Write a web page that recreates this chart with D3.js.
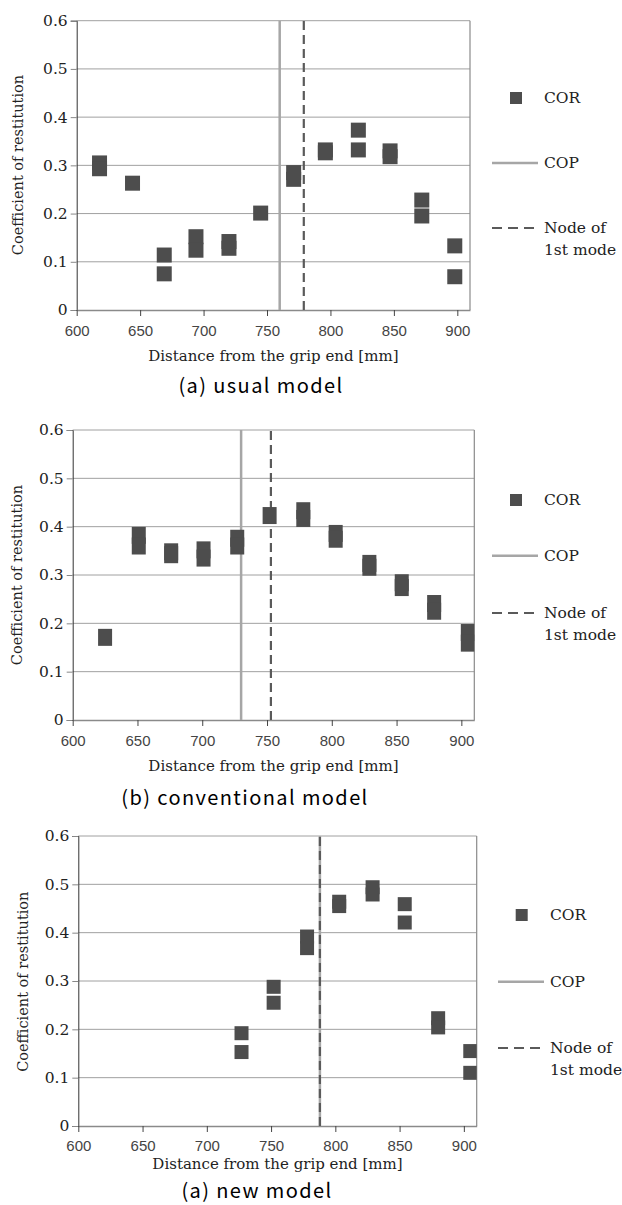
<!DOCTYPE html>
<html><head><meta charset="utf-8">
<script src="https://cdn.jsdelivr.net/npm/d3@7"></script>
<style>body{margin:0;background:#fff}svg{display:block}</style>
</head><body>
<svg id="c" width="622" height="1205"></svg>
<script>
// ---- data ----
const xTicks = [600, 650, 700, 750, 800, 850, 900];
const yTicks = [0, 0.1, 0.2, 0.3, 0.4, 0.5, 0.6];
const yTickLabels = ["0", "0.1", "0.2", "0.3", "0.4", "0.5", "0.6"];
const xDomain = [600, 910];
const yDomain = [0, 0.6];

const usualX = [618, 618, 644, 669, 669, 694, 694, 720, 720, 745, 771, 771, 796, 796, 822, 822, 847, 847, 872, 872, 898, 898];
const usualY = [0.305, 0.293, 0.263, 0.114, 0.075, 0.152, 0.124, 0.142, 0.128, 0.201, 0.285, 0.271, 0.332, 0.326, 0.373, 0.332, 0.330, 0.318, 0.228, 0.195, 0.133, 0.069];
const usualCOP = 760, usualNode = 779;

const convX = [625, 651, 651, 676, 676, 701, 701, 727, 727, 752, 778, 778, 803, 803, 829, 829, 854, 854, 879, 879, 905, 905];
const convY = [0.171, 0.382, 0.360, 0.348, 0.342, 0.352, 0.335, 0.376, 0.360, 0.423, 0.433, 0.417, 0.386, 0.374, 0.324, 0.316, 0.284, 0.274, 0.241, 0.225, 0.181, 0.159];
const convCOP = 730, convNode = 753;

const newX = [727, 727, 752, 752, 778, 778, 803, 803, 829, 829, 854, 854, 880, 880, 905, 905];
const newY = [0.192, 0.153, 0.288, 0.255, 0.392, 0.368, 0.464, 0.455, 0.494, 0.479, 0.459, 0.421, 0.223, 0.204, 0.155, 0.110];
const newCOP = 788, newNode = 788;

const legendLabels = ["COR", "COP", ["Node of", "1st mode"]];
const xTitle = "Distance from the grip end [mm]";
const yTitle = "Coefficient of restitution";
const captions = ["(a) usual model", "(b) conventional model", "(a) new model"];

// ---- layout ----
const panels = [
  {xs: usualX, ys: usualY, cop: usualCOP, node: usualNode, cap: captions[0],
   L: 76.7, R: 470, T: 20.7, B: 310, mw: 15, mh: 15,
   lg: {sq: [516, 98], cop: 163, node: 228, x0: 492, x1: 538, tx: 544},
   yt: [18, 165], xl: 336, xt: 361, capY: 393, capX: 261},
  {xs: convX, ys: convY, cop: convCOP, node: convNode, cap: captions[1],
   L: 72.7, R: 474.3, T: 430, B: 720, mw: 14, mh: 17,
   lg: {sq: [516, 500], cop: 555.7, node: 613, x0: 492, x1: 538, tx: 544},
   yt: [17, 575], xl: 745.5, xt: 770.5, capY: 805, capX: 245},
  {xs: newX, ys: newY, cop: newCOP, node: newNode, cap: captions[2],
   L: 78.3, R: 476.7, T: 836, B: 1126, mw: 14, mh: 14,
   lg: {sq: [521.7, 915], cop: 981.7, node: 1048, x0: 498, x1: 544, tx: 550},
   yt: [22.7, 981.7], xl: 1151, xt: 1168.5, capY: 1198, capX: 257}
];

const svg = d3.select("#c");
const serif = "'DejaVu Serif', serif";
const sans = "'Liberation Sans', Arial, sans-serif";
const markColor = "#4d4d4d";

panels.forEach((p, i) => {
  const x = d3.scaleLinear().domain(xDomain).range([p.L, p.R]);
  const y = d3.scaleLinear().domain(yDomain).range([p.B, p.T]);
  const g = svg.append("g");
  const clipId = "clip" + i;
  svg.append("clipPath").attr("id", clipId).append("rect")
    .attr("x", p.L).attr("y", p.T).attr("width", p.R - p.L).attr("height", p.B - p.T);

  // gridlines
  g.selectAll(".grid").data(yTicks.filter(v => v > 0)).join("line")
    .attr("x1", p.L).attr("x2", p.R).attr("y1", d => y(d)).attr("y2", d => y(d))
    .attr("stroke", "#a0a0a0").attr("stroke-width", 1);
  // right border
  g.append("line").attr("x1", p.R).attr("x2", p.R).attr("y1", p.T).attr("y2", p.B)
    .attr("stroke", "#8a8a8a").attr("stroke-width", 1.2);

  // y axis
  const ya = g.append("g").attr("transform", `translate(${p.L},0)`)
    .call(d3.axisLeft(y).tickValues(yTicks).tickSize(6).tickFormat((d, k) => yTickLabels[k]));
  ya.select(".domain").attr("stroke", "#333");
  ya.selectAll(".tick line").attr("stroke", "#888");
  ya.selectAll("text").attr("font-family", serif).attr("font-size", 15.5).attr("fill", "#222").attr("x", -9);

  // x axis
  const xa = g.append("g").attr("transform", `translate(0,${p.B})`)
    .call(d3.axisBottom(x).tickValues(xTicks).tickSize(6).tickSizeOuter(0).tickFormat(d3.format("d")));
  xa.select(".domain").attr("stroke", "#8a8a8a").attr("stroke-width", 1.5);
  xa.selectAll(".tick line").attr("stroke", "#444");
  xa.selectAll("text").attr("font-family", sans).attr("font-size", 15).attr("fill", "#444")
    .attr("y", null).attr("dy", null)
    .attr("transform", `translate(0,${p.xl - p.B})`);

  // reference lines
  g.append("line").attr("x1", x(p.cop)).attr("x2", x(p.cop)).attr("y1", y(0)).attr("y2", y(0.6))
    .attr("stroke", "#a6a6a6").attr("stroke-width", 2.5);
  g.append("line").attr("x1", x(p.node)).attr("x2", x(p.node)).attr("y1", y(0)).attr("y2", y(0.6))
    .attr("stroke", "#5a5a5a").attr("stroke-width", 2.2).attr("stroke-dasharray", "9,5");

  // markers
  g.append("g").attr("clip-path", `url(#${clipId})`)
    .selectAll("rect").data(p.xs.map((v, k) => [v, p.ys[k]])).join("rect")
    .attr("x", d => x(d[0]) - p.mw / 2).attr("y", d => y(d[1]) - p.mh / 2)
    .attr("width", p.mw).attr("height", p.mh).attr("fill", markColor);

  // titles
  g.append("text").attr("x", (p.L + p.R) / 2).attr("y", p.xt).attr("text-anchor", "middle")
    .attr("font-family", serif).attr("font-size", 15).attr("fill", "#222").text(xTitle);
  g.append("text").attr("transform", `translate(${p.yt[0] + 5},${p.yt[1]}) rotate(-90)`)
    .attr("text-anchor", "middle").attr("font-family", serif).attr("font-size", 14.5).attr("fill", "#222").text(yTitle);
  g.append("text").attr("x", p.capX).attr("y", p.capY).attr("text-anchor", "middle")
    .attr("font-family", "'Noto Sans CJK JP', sans-serif").attr("font-size", 20)
    .attr("letter-spacing", 1.4).attr("fill", "#000").text(p.cap);

  // legend
  const lg = p.lg;
  g.append("rect").attr("x", lg.sq[0] - 6).attr("y", lg.sq[1] - 6).attr("width", 12).attr("height", 12).attr("fill", markColor);
  const lt = (tx, ty, s) => g.append("text").attr("x", tx).attr("y", ty).attr("dy", "0.35em")
    .attr("font-family", serif).attr("font-size", 15.5).attr("fill", "#222").text(s);
  lt(lg.tx, lg.sq[1], legendLabels[0]);
  g.append("line").attr("x1", lg.x0).attr("x2", lg.x1).attr("y1", lg.cop).attr("y2", lg.cop)
    .attr("stroke", "#a6a6a6").attr("stroke-width", 2.5);
  lt(lg.tx, lg.cop, legendLabels[1]);
  g.append("line").attr("x1", lg.x0).attr("x2", lg.x1).attr("y1", lg.node).attr("y2", lg.node)
    .attr("stroke", "#5a5a5a").attr("stroke-width", 2.2).attr("stroke-dasharray", "10,6");
  lt(lg.tx, lg.node, legendLabels[2][0]);
  lt(lg.tx, lg.node + 22, legendLabels[2][1]);
});
</script>
</body></html>
